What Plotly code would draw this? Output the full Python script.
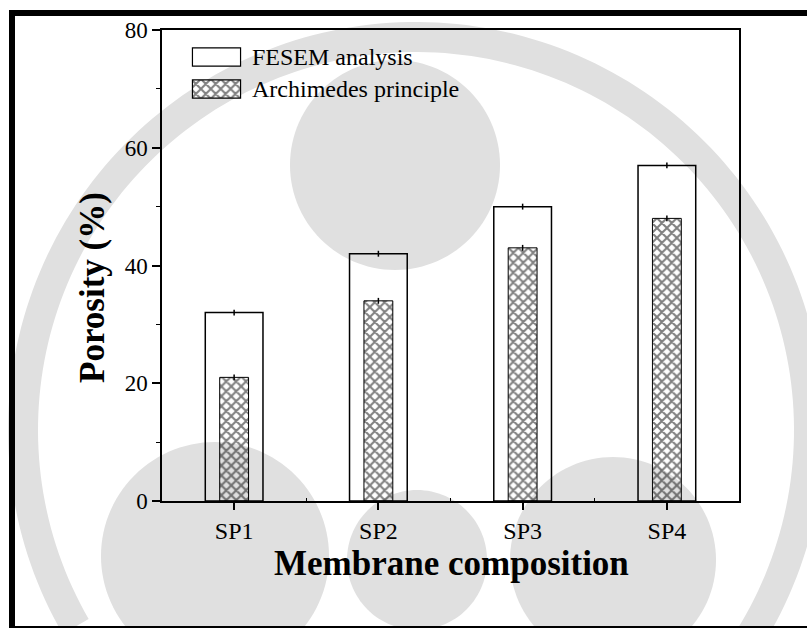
import numpy as np
import plotly.graph_objects as go

# Porosity of membranes: FESEM image analysis vs Archimedes principle
categories = ["SP1", "SP2", "SP3", "SP4"]
fesem = [32, 42, 50, 57]
fesem_err = [0.5, 0.5, 0.5, 0.5]
archimedes = [21, 34, 43, 48]
archimedes_err = [0.5, 0.5, 0.5, 0.5]
y_ticks = [0, 20, 40, 60, 80]

W, H = 807, 628
L, R, T, B = 162, 739, 30, 501  # plot area in pixels


def px(x):
    return (x - L) / (R - L)


def py(y):
    return (B - y) / (B - T)


FONT = "Liberation Serif, Times New Roman, serif"
xpos = list(range(len(categories)))
HATCH = dict(shape="x", fgcolor="black", size=7, solidity=0.5)
WM = "#e0e0e0"  # faint background emblem

fig = go.Figure()
fig.add_trace(go.Bar(
    x=xpos, y=fesem, width=0.4, name="FESEM analysis",
    marker=dict(color="rgba(0,0,0,0)", line=dict(color="black", width=1.5)),
    error_y=dict(type="data", array=fesem_err, width=0, thickness=1.5, color="black"),
    showlegend=False,
))
fig.add_trace(go.Bar(
    x=xpos, y=archimedes, width=0.2, name="Archimedes principle",
    marker=dict(color="rgba(0,0,0,0)", line=dict(color="black", width=1),
                pattern=dict(bgcolor="rgba(0,0,0,0)", **HATCH)),
    error_y=dict(type="data", array=archimedes_err, width=0, thickness=1.5, color="black"),
    showlegend=False,
))

# legend swatches drawn as tiny inset axes so the keys can be large
fig.add_trace(go.Bar(
    x=[0], y=[1], width=1, xaxis="x2", yaxis="y2", showlegend=False, hoverinfo="skip",
    marker=dict(color="white", line=dict(color="black", width=1.2)),
))
fig.add_trace(go.Bar(
    x=[0], y=[1], width=1, xaxis="x3", yaxis="y3", showlegend=False, hoverinfo="skip",
    marker=dict(color="white", line=dict(color="black", width=1.2),
                pattern=dict(bgcolor="white", **HATCH)),
))

inset = dict(visible=False, fixedrange=True)
fig.update_layout(
    width=W, height=H,
    margin=dict(l=L, r=W - R, t=T, b=H - B, pad=0),
    paper_bgcolor="white", plot_bgcolor="rgba(0,0,0,0)",
    barmode="overlay",
    font=dict(family=FONT, color="black", size=23),
    xaxis=dict(
        range=[-0.5, len(categories) - 0.5],
        tickmode="array", tickvals=xpos, ticktext=categories,
        ticks="outside", ticklen=7, tickwidth=1.5, tickcolor="black",
        tickfont=dict(size=24),
        showline=True, linecolor="black", linewidth=1.5, mirror=True,
        showgrid=False, zeroline=False,
        minor=dict(tickvals=[0.5, 1.5, 2.5], ticks="inside", ticklen=3,
                   tickwidth=1.2, tickcolor="black", showgrid=False),
    ),
    yaxis=dict(
        range=[0, 80], tickmode="array", tickvals=y_ticks,
        ticks="outside", ticklen=8, tickwidth=1.5, tickcolor="black",
        tickfont=dict(size=23),
        showline=True, linecolor="black", linewidth=1.5, mirror=True,
        showgrid=False, zeroline=False,
        minor=dict(dtick=10, ticks="outside", ticklen=4, tickwidth=1.2,
                   tickcolor="black", showgrid=False),
    ),
    xaxis2=dict(domain=[px(191), px(242)], anchor="y2", range=[-0.53, 0.53], **inset),
    yaxis2=dict(domain=[py(67), py(47)], anchor="x2", range=[-0.05, 1.05], **inset),
    xaxis3=dict(domain=[px(191), px(242)], anchor="y3", range=[-0.53, 0.53], **inset),
    yaxis3=dict(domain=[py(99), py(79)], anchor="x3", range=[-0.05, 1.05], **inset),
    showlegend=False,
)


# background emblem: a ring band and discs, drawn beneath everything
def path_from(points):
    pts = [f"{px(x):.5f},{py(y):.5f}" for x, y in points]
    return "M" + " L".join(pts) + " Z"


def arc_band(cx, cy, r_in, r_out, a0, a1, n=180):
    t = np.radians(np.linspace(a0, a1, n))
    outer = [(cx + r_out * np.cos(a), cy + r_out * np.sin(a)) for a in t]
    inner = [(cx + r_in * np.cos(a), cy + r_in * np.sin(a)) for a in t[::-1]]
    return path_from(outer + inner)


def disc(cx, cy, r, n=120):
    t = np.radians(np.linspace(0, 360, n, endpoint=False))
    return path_from([(cx + r * np.cos(a), cy + r * np.sin(a)) for a in t])


for p in [arc_band(416, 430, 378, 408, -210, 32),
          disc(395, 165, 105), disc(215, 556, 114), disc(613, 560, 103),
          disc(417, 560, 70)]:
    fig.add_shape(type="path", path=p, xref="paper", yref="paper",
                  fillcolor=WM, line=dict(width=0), layer="below")

# legend labels
fig.add_annotation(x=px(250), y=py(57), xref="paper", yref="paper", xanchor="left",
                   yanchor="middle", showarrow=False, text="FESEM analysis",
                   font=dict(size=24))
fig.add_annotation(x=px(250), y=py(89), xref="paper", yref="paper", xanchor="left",
                   yanchor="middle", showarrow=False, text="Archimedes principle",
                   font=dict(size=24))

# axis titles
fig.add_annotation(x=px(451), y=py(563), xref="paper", yref="paper", xanchor="center",
                   yanchor="middle", showarrow=False, text="<b>Membrane composition</b>",
                   font=dict(size=35))
fig.add_annotation(x=px(92), y=py(288), xref="paper", yref="paper", xanchor="center",
                   yanchor="middle", showarrow=False, text="<b>Porosity (%)</b>",
                   textangle=-90, font=dict(size=35))

# outer frame
frame = [
    (9, 10, W, 16),
    (9, 10, 15, H),
    (9, 626, W, 628),
]
for x0, y0, x1, y1 in frame:
    fig.add_shape(type="rect", xref="paper", yref="paper",
                  x0=px(x0), x1=px(x1), y0=py(y1), y1=py(y0),
                  fillcolor="black", line=dict(width=0), layer="above")

fig.write_html("out.html")
